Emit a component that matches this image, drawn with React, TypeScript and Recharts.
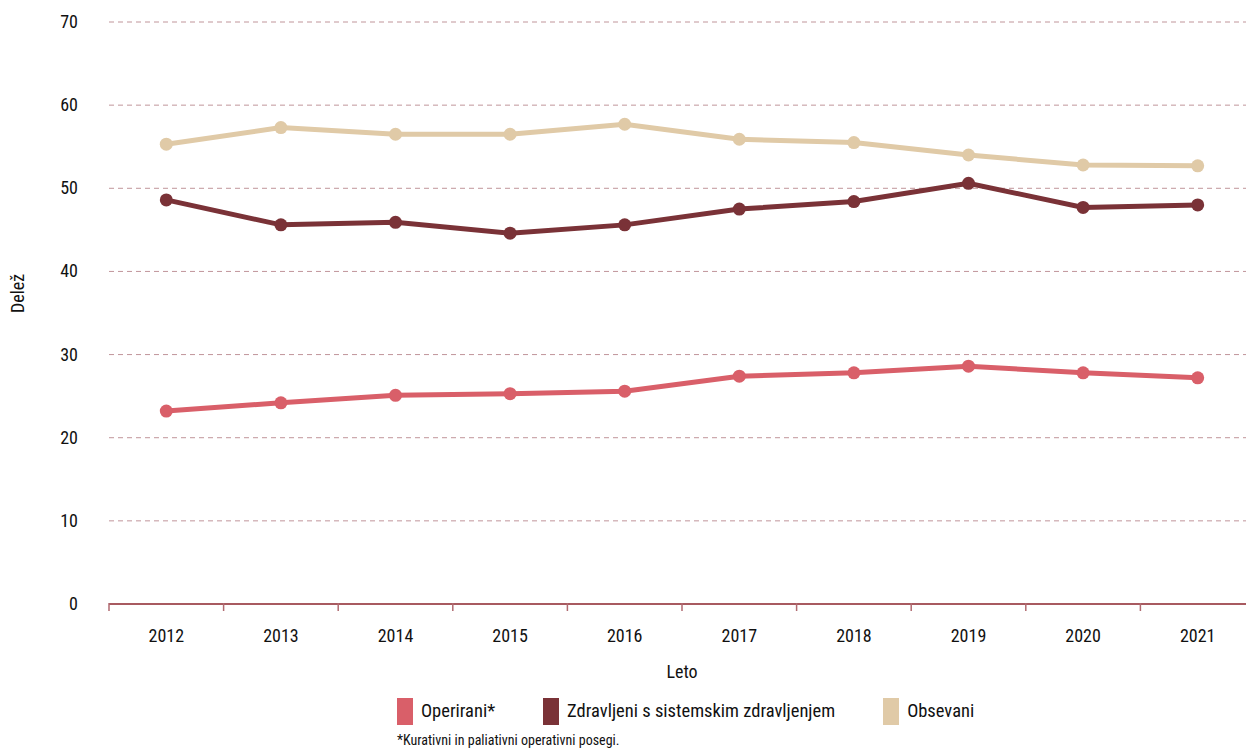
import { LineChart, Line, XAxis, YAxis, CartesianGrid } from "recharts";

const YEARS = ["2012", "2013", "2014", "2015", "2016", "2017", "2018", "2019", "2020", "2021"];
const OPERIRANI = [23.2, 24.2, 25.1, 25.3, 25.6, 27.4, 27.8, 28.6, 27.8, 27.2];
const SISTEMSKO = [48.6, 45.6, 45.9, 44.6, 45.6, 47.5, 48.4, 50.6, 47.7, 48.0];
const OBSEVANI = [55.3, 57.3, 56.5, 56.5, 57.7, 55.9, 55.5, 54.0, 52.8, 52.7];
const Y_TICKS = [0, 10, 20, 30, 40, 50, 60, 70];

const SERIES = [
  { key: "operirani", name: "Operirani*", color: "#D95F69", values: OPERIRANI },
  { key: "sistemsko", name: "Zdravljeni s sistemskim zdravljenjem", color: "#7A3237", values: SISTEMSKO },
  { key: "obsevani", name: "Obsevani", color: "#E0CAA7", values: OBSEVANI },
];

const FONT = "'Liberation Sans Narrow', 'Roboto Condensed', Roboto, sans-serif";

const data = YEARS.map((year, i) => {
  const row: Record<string, string | number> = { year };
  SERIES.forEach((s) => (row[s.key] = s.values[i]));
  return row;
});

const PLOT_LEFT = 109;
const PLOT_RIGHT = 1255;
const BAND = (PLOT_RIGHT - PLOT_LEFT) / YEARS.length;

function XTick(props: any) {
  const { x, y, payload } = props;
  return (
    <g>
      <line x1={x - BAND / 2} x2={x - BAND / 2} y1={y - 9} y2={y - 1} stroke="#B06A70" strokeWidth={1.5} />
      <text x={x} y={y + 30} textAnchor="middle" fill="#111" fontSize={18} fontFamily={FONT}>
        {payload.value}
      </text>
    </g>
  );
}

function YTick(props: any) {
  const { y, payload } = props;
  return (
    <text x={78} y={y + 6} textAnchor="end" fill="#111" fontSize={18} fontFamily={FONT}>
      {payload.value}
    </text>
  );
}

export default function App() {
  return (
    <div
      style={{
        position: "absolute",
        left: 0,
        top: 0,
        width: 1246,
        height: 751,
        overflow: "hidden",
        background: "#fff",
      }}
    >
      <LineChart
        width={1262}
        height={684}
        data={data}
        margin={{ top: 22, right: 1262 - PLOT_RIGHT, bottom: 0, left: 0 }}
      >
        <CartesianGrid vertical={false} stroke="#C0959A" strokeDasharray="5 4" />
        <XAxis
          dataKey="year"
          height={80}
          padding={{ left: BAND / 2, right: BAND / 2 }}
          tick={<XTick />}
          tickLine={false}
          axisLine={{ stroke: "#A85A60", strokeWidth: 2 }}
          label={{ value: "Leto", position: "insideBottom", offset: 6, fill: "#111", fontSize: 18, fontFamily: FONT }}
        />
        <YAxis
          width={PLOT_LEFT}
          domain={[0, 70]}
          ticks={Y_TICKS}
          tick={<YTick />}
          tickLine={false}
          axisLine={false}
          label={{ value: "Delež", angle: -90, position: "insideLeft", offset: 18, fill: "#111", fontSize: 18, fontFamily: FONT }}
        />
        {SERIES.map((s) => (
          <Line
            key={s.key}
            dataKey={s.key}
            name={s.name}
            stroke={s.color}
            strokeWidth={5}
            dot={{ r: 6.5, fill: s.color, stroke: s.color, strokeWidth: 0 }}
            isAnimationActive={false}
          />
        ))}
      </LineChart>
      <div style={{ position: "absolute", left: 397, top: 697, fontFamily: FONT, color: "#111" }}>
        <div style={{ display: "flex", alignItems: "center", height: 28 }}>
          {SERIES.map((s) => (
            <div key={s.key} style={{ display: "flex", alignItems: "center", marginRight: 48 }}>
              <span style={{ width: 16, height: 27, background: s.color, display: "inline-block", marginRight: 8 }} />
              <span style={{ fontSize: 18.5, whiteSpace: "nowrap" }}>{s.name}</span>
            </div>
          ))}
        </div>
        <div style={{ fontSize: 14, marginTop: 7, whiteSpace: "nowrap" }}>*Kurativni in paliativni operativni posegi.</div>
      </div>
    </div>
  );
}
